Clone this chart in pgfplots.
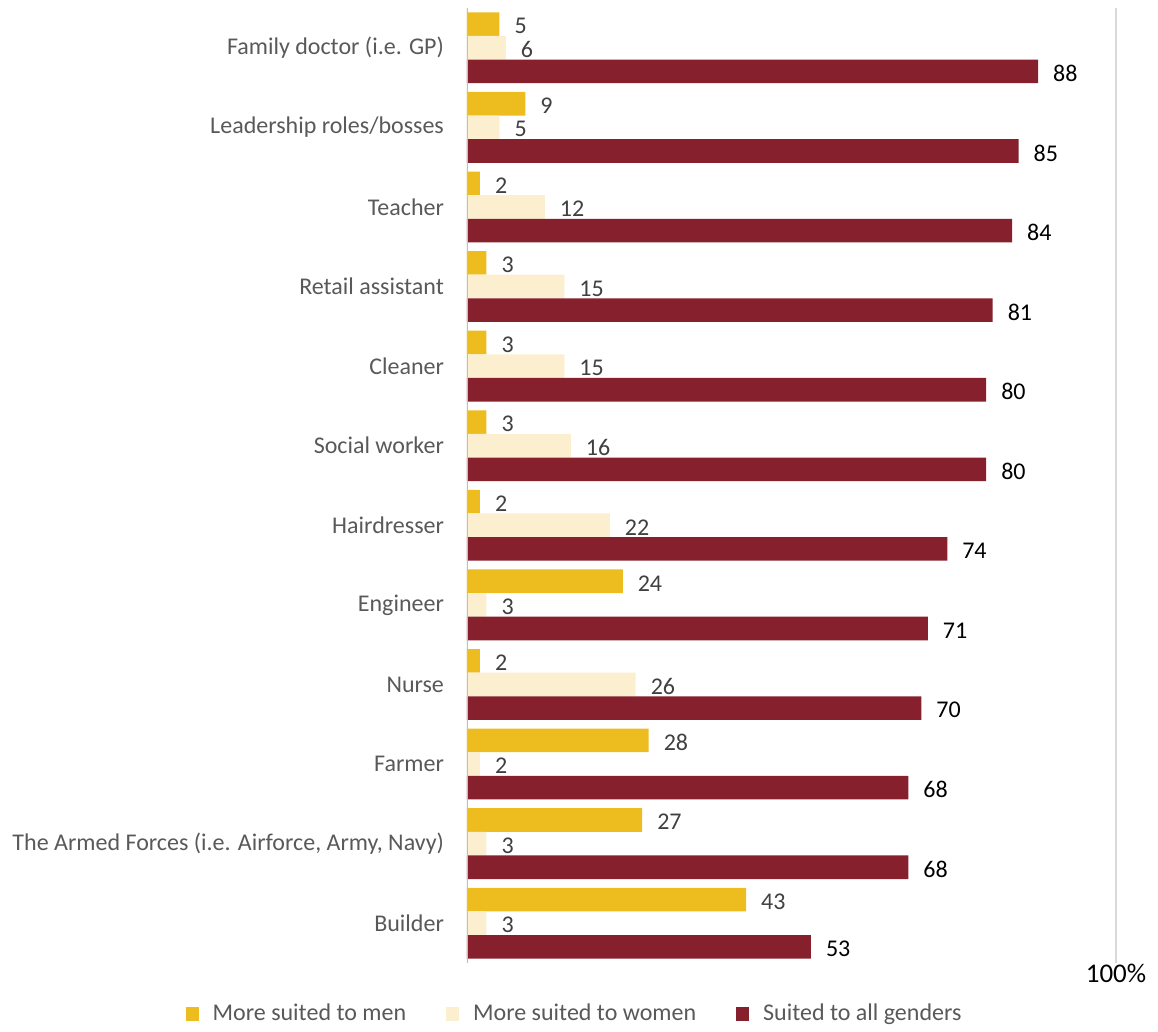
\documentclass[border=0pt]{standalone}
\usepackage{pgfplots}
\pgfplotsset{compat=1.18}
\usepackage{fontspec}
\setmainfont{Carlito}
\definecolor{cgold}{HTML}{EDBC1E}
\definecolor{ccream}{HTML}{FBEFCF}
\definecolor{cmaroon}{HTML}{86202D}
\definecolor{ctext}{HTML}{595959}
\definecolor{cval}{HTML}{404040}
\begin{document}
\begin{tikzpicture}[x=1pt,y=1pt]
\begin{axis}[
  at={(0,0)}, anchor=south west,
  scale only axis, width=324.5pt, height=477.5pt,
  xbar, bar width=11.8pt,
  xmin=0, xmax=100, ymin=-0.5, ymax=11.5,
  axis line style={draw=none},
  xtick={100}, xticklabels={100\%},
  xticklabel style={font=\fontsize{13.5pt}{15pt}\selectfont, text=black, yshift=3pt},
  xmajorgrids, grid style={draw=black!15, line width=0.6pt},
  major tick length=0pt,
  ytick={0,...,11},
  yticklabels={Builder, {The Armed Forces (i.e. Airforce, Army, Navy)}, Farmer, Nurse, Engineer, Hairdresser, Social worker, Cleaner, Retail assistant, Teacher, Leadership roles/bosses, Family doctor (i.e. GP)},
  yticklabel style={font=\fontsize{12pt}{14pt}\selectfont, text=ctext, xshift=-8pt},
  nodes near coords,
  every node near coord/.append style={font=\fontsize{12pt}{14pt}\selectfont, /pgf/number format/assume math mode=true, xshift=4pt, yshift=-1pt},
  legend style={at={(0.1673,-0.0534)}, anchor=center, draw=none, legend columns=3,
    font=\fontsize{12pt}{14pt}\selectfont, text=ctext,
    /tikz/every even column/.append style={column sep=18pt}},
  legend image code/.code={\fill[#1] (0pt,-3.3pt) rectangle (6.5pt,3.3pt); \path (11.5pt,0pt);},
]
\addplot[fill=cgold, draw=none, bar shift=11.8pt, nodes near coords style={text=cval}] coordinates {
(43,0) (27,1) (28,2) (2,3) (24,4) (2,5) (3,6) (3,7) (3,8) (2,9) (9,10) (5,11)};
\addlegendentry{More suited to men}
\addplot[fill=ccream, draw=none, bar shift=0pt, nodes near coords style={text=cval}] coordinates {
(3,0) (3,1) (2,2) (26,3) (3,4) (22,5) (16,6) (15,7) (15,8) (12,9) (5,10) (6,11)};
\addlegendentry{More suited to women}
\addplot[fill=cmaroon, draw=none, bar shift=-11.8pt, nodes near coords style={text=black}] coordinates {
(53,0) (68,1) (68,2) (70,3) (71,4) (74,5) (80,6) (80,7) (81,8) (84,9) (85,10) (88,11)};
\addlegendentry{Suited to all genders}
\draw[draw=black!25, line width=0.8pt] (axis cs:0,-0.55) -- (axis cs:0,11.5);
\end{axis}
\path (-233.5pt,-32.5pt) rectangle (345.5pt,481.5pt);
\end{tikzpicture}
\end{document}
